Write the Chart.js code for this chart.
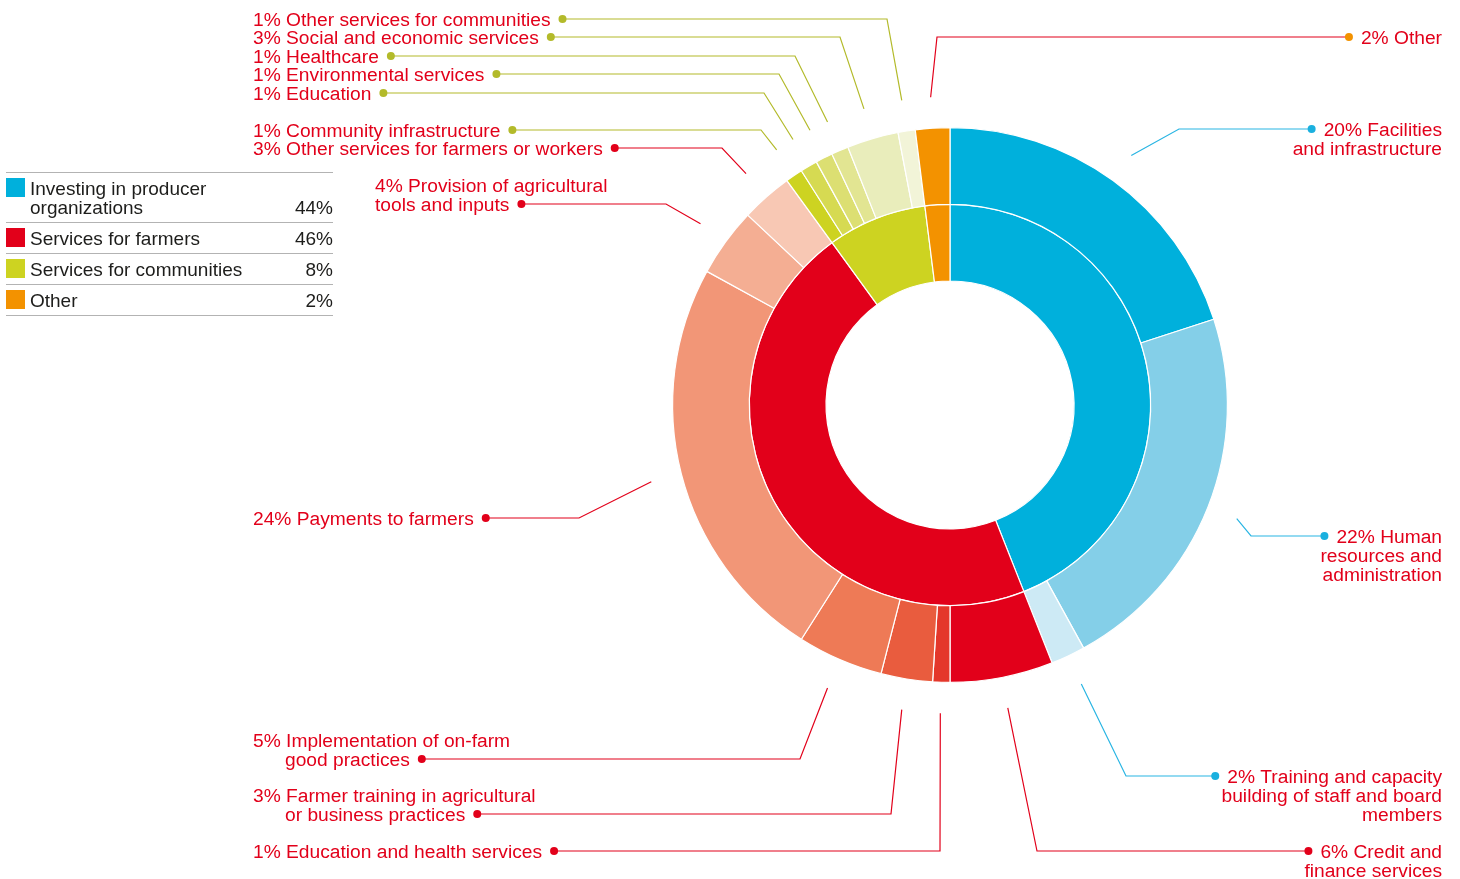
<!DOCTYPE html>
<html>
<head>
<meta charset="utf-8">
<script src="https://cdn.jsdelivr.net/npm/chart.js@4.4.1/dist/chart.umd.min.js"></script>
<style>
  html, body { margin:0; padding:0; background:#fff; }
  body { width:1460px; height:879px; position:relative; overflow:hidden; font-family:"Liberation Sans", Arial, sans-serif; }
  #donut { position:absolute; left:0; top:0; }
  #legend { position:absolute; left:6px; top:172px; width:327px; font-size:19px; line-height:19px; color:#1d1d1b; border-bottom:1.5px solid #b3b3b3; }
  #legend .row { display:flex; align-items:flex-start; border-top:1.5px solid #b3b3b3; padding:6px 0 5px 0; }
  #legend .sw { width:19px; height:19px; flex:none; margin-right:5px; margin-top:-1px; }
  #legend .name { flex:1; }
  #legend .pct { align-self:flex-end; text-align:right; }
</style>
</head>
<body>
<canvas id="donut" width="1460" height="879"></canvas>
<div id="legend"></div>
<script>
"use strict";

// inner ring: main spending categories
const categories     = ["Investing in producer\norganizations", "Services for farmers", "Services for communities", "Other"];
const categoryValues = [44, 46, 8, 2];
const categoryColors = ["#00b0dc", "#e2001a", "#cdd321", "#f39200"];

// outer ring: breakdown, clockwise from the top
const subNames = [
  "Facilities\nand infrastructure",
  "Human\nresources and\nadministration",
  "Training and capacity\nbuilding of staff and board\nmembers",
  "Credit and\nfinance services",
  "Education and health services",
  "Farmer training in agricultural\nor business practices",
  "Implementation of on-farm\ngood practices",
  "Payments to farmers",
  "Provision of agricultural\ntools and inputs",
  "Other services for farmers or workers",
  "Community infrastructure",
  "Education",
  "Environmental services",
  "Healthcare",
  "Social and economic services",
  "Other services for communities",
  "Other"
];
const subValues = [20, 22, 2, 6, 1, 3, 5, 24, 4, 3, 1, 1, 1, 1, 3, 1, 2];
const subParent = [0, 0, 0, 1, 1, 1, 1, 1, 1, 1, 2, 2, 2, 2, 2, 2, 3];
const subColors = [
  "#00b0dc", "#84cfe8", "#cdeaf5",
  "#e2001a", "#e4372b", "#e95c3e", "#ee7a56", "#f29677", "#f4ae93", "#f8c8b4",
  "#cdd321", "#d6da52", "#dcdf72", "#e2e592", "#e9edbb", "#f2f4d8",
  "#f39200"
];

const lineColors = ["#29b5e3", "#e2001a", "#b3ba2a", "#e2001a"];
const dotColors  = ["#1ab0df", "#e2001a", "#b3ba2a", "#f39200"];

// where each callout sits: first-line centre y, text x, second-line indent, elbow x
const RIGHT_EDGE = 1442;
const labelLayout = [
  { side:"right", y:129, elbowX:1179 },
  { side:"right", y:536, elbowX:1251 },
  { side:"right", y:776, elbowX:1126 },
  { side:"right", y:851, elbowX:1037 },
  { side:"left", x:253, y:851, indent:0,  elbowX:940 },
  { side:"left", x:253, y:795, indent:32, elbowX:891 },
  { side:"left", x:253, y:740, indent:32, elbowX:800 },
  { side:"left", x:253, y:518, indent:0,  elbowX:579 },
  { side:"left", x:375, y:185, indent:0,  elbowX:666 },
  { side:"left", x:253, y:148, indent:0,  elbowX:722 },
  { side:"left", x:253, y:130, indent:0,  elbowX:761 },
  { side:"left", x:253, y:93,  indent:0,  elbowX:764 },
  { side:"left", x:253, y:74,  indent:0,  elbowX:779 },
  { side:"left", x:253, y:56,  indent:0,  elbowX:795 },
  { side:"left", x:253, y:37,  indent:0,  elbowX:840 },
  { side:"left", x:253, y:19,  indent:0,  elbowX:887 },
  { side:"right", y:37, elbowX:937 }
];

function buildLegend() {
  const box = document.getElementById("legend");
  box.innerHTML = categories.map((c, i) => `
    <div class="row">
      <span class="sw" style="background:${categoryColors[i]}"></span>
      <span class="name">${c.replace("\n", "<br>")}</span>
      <span class="pct">${categoryValues[i]}%</span>
    </div>`).join("");
}

const leaderLabels = {
  id: "leaderLabels",
  afterDatasetsDraw(chart) {
    const ctx = chart.ctx;
    const arcs = chart.getDatasetMeta(0).data;
    const lh = 19;
    ctx.save();
    ctx.font = '19.2px "Liberation Sans", Arial, sans-serif';
    ctx.textBaseline = "middle";
    arcs.forEach((arc, i) => {
      const p = arc.getProps(["x", "y", "startAngle", "endAngle", "outerRadius"], true);
      const mid = (p.startAngle + p.endAngle) / 2;
      const r = p.outerRadius + 31;
      const sx = p.x + Math.cos(mid) * r;
      const sy = p.y + Math.sin(mid) * r;
      const lay = labelLayout[i];
      const lines = (subValues[i] + "% " + subNames[i]).split("\n");
      let dotX, dotY;
      if (lay.side === "left") {
        dotY = lay.y + (lines.length - 1) * lh;
        const lastX = lines.length > 1 ? lay.x + lay.indent : lay.x;
        dotX = lastX + ctx.measureText(lines[lines.length - 1]).width + 12;
      } else {
        dotY = lay.y;
        dotX = RIGHT_EDGE - ctx.measureText(lines[0]).width - 12;
      }

      ctx.strokeStyle = lineColors[subParent[i]];
      ctx.lineWidth = 1.2;
      ctx.beginPath();
      ctx.moveTo(sx, sy);
      ctx.lineTo(lay.elbowX, dotY);
      ctx.lineTo(dotX, dotY);
      ctx.stroke();

      ctx.fillStyle = dotColors[subParent[i]];
      ctx.beginPath();
      ctx.arc(dotX, dotY, 4, 0, Math.PI * 2);
      ctx.fill();

      ctx.fillStyle = "#e2001a";
      lines.forEach((t, k) => {
        let tx;
        if (lay.side === "left") {
          ctx.textAlign = "left";
          tx = k === 0 ? lay.x : lay.x + lay.indent;
        } else {
          ctx.textAlign = "right";
          tx = RIGHT_EDGE;
        }
        ctx.fillText(t, tx, lay.y + k * lh + 1.5);
      });
    });
    ctx.restore();
  }
};

buildLegend();

new Chart(document.getElementById("donut").getContext("2d"), {
  type: "doughnut",
  data: {
    labels: subNames,
    datasets: [
      { data: subValues, backgroundColor: subColors, borderColor: "#ffffff", borderWidth: 1.2 },
      { data: categoryValues, backgroundColor: categoryColors, borderColor: "#ffffff", borderWidth: 1.2 }
    ]
  },
  options: {
    responsive: false,
    animation: false,
    cutout: "44.7%",
    layout: { padding: { left: 672, right: 232, top: 127, bottom: 196 } },
    plugins: { legend: { display: false }, tooltip: { enabled: false } }
  },
  plugins: [leaderLabels]
});
</script>
</body>
</html>
